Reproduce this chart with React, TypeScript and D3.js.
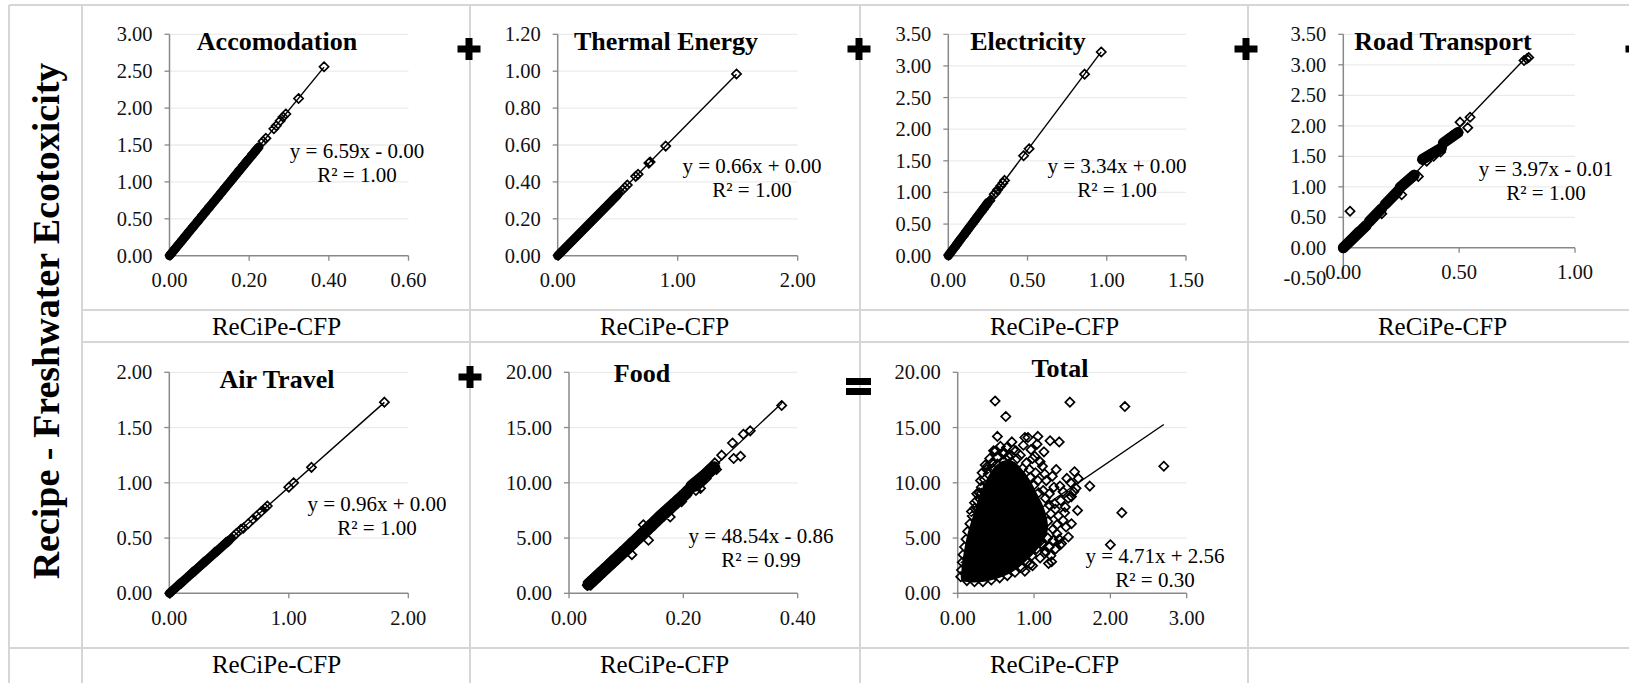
import React from 'react';
import * as d3 from 'd3';

type Pt = [number, number];

// ---- data (x = ReCiPe-CFP, y = Recipe freshwater ecotoxicity) ----

const accomPoints: Pt[] = [
  [0.002, 0.01], [0.006, 0.04], [0.011, 0.07], [0.015, 0.10], [0.020, 0.13], [0.024, 0.16],
  [0.029, 0.19], [0.033, 0.22], [0.038, 0.25], [0.042, 0.28], [0.047, 0.31], [0.051, 0.34],
  [0.056, 0.37], [0.060, 0.40], [0.065, 0.43], [0.069, 0.45], [0.074, 0.49], [0.078, 0.51],
  [0.083, 0.55], [0.087, 0.57], [0.092, 0.61], [0.096, 0.63], [0.101, 0.67], [0.105, 0.69],
  [0.110, 0.72], [0.114, 0.75], [0.119, 0.78], [0.123, 0.81], [0.128, 0.84], [0.132, 0.87],
  [0.137, 0.90], [0.141, 0.93], [0.146, 0.96], [0.150, 0.99], [0.155, 1.02], [0.159, 1.05],
  [0.164, 1.08], [0.168, 1.11], [0.173, 1.14], [0.177, 1.17], [0.182, 1.20], [0.186, 1.23],
  [0.191, 1.26], [0.195, 1.29], [0.200, 1.32], [0.204, 1.34], [0.209, 1.38], [0.213, 1.40],
  [0.218, 1.44], [0.222, 1.46], [0.235, 1.55], [0.242, 1.59], [0.262, 1.72], [0.268, 1.76],
  [0.278, 1.83], [0.285, 1.88], [0.292, 1.92], [0.324, 2.13], [0.388, 2.56],
];
// stretches where the markers overlap into a solid band
const accomDense: Pt[][] = [[[0.0, 0.0], [0.224, 1.47]]];

const thermalPoints: Pt[] = [
  [0.005, 0.003], [0.022, 0.015], [0.040, 0.026], [0.057, 0.038], [0.075, 0.050], [0.092, 0.061],
  [0.110, 0.072], [0.127, 0.084], [0.145, 0.096], [0.162, 0.107], [0.180, 0.119], [0.197, 0.130],
  [0.215, 0.142], [0.232, 0.153], [0.250, 0.165], [0.267, 0.176], [0.285, 0.188], [0.302, 0.199],
  [0.320, 0.211], [0.337, 0.222], [0.355, 0.234], [0.372, 0.245], [0.390, 0.257], [0.407, 0.269],
  [0.425, 0.280], [0.442, 0.292], [0.460, 0.303], [0.477, 0.315], [0.495, 0.327], [0.510, 0.337],
  [0.540, 0.356], [0.560, 0.370], [0.580, 0.383], [0.650, 0.430], [0.670, 0.441], [0.760, 0.502],
  [0.770, 0.508], [0.900, 0.594], [1.490, 0.985],
];
const thermalDense: Pt[][] = [[[0.0, 0.0], [0.50, 0.33]]];

const elecPoints: Pt[] = [
  [0.003, 0.01], [0.014, 0.05], [0.026, 0.09], [0.037, 0.12], [0.049, 0.16], [0.060, 0.20],
  [0.071, 0.24], [0.083, 0.28], [0.094, 0.31], [0.106, 0.35], [0.117, 0.39], [0.128, 0.43],
  [0.140, 0.47], [0.151, 0.50], [0.163, 0.54], [0.174, 0.58], [0.185, 0.62], [0.197, 0.66],
  [0.208, 0.69], [0.220, 0.73], [0.231, 0.77], [0.243, 0.81], [0.254, 0.85], [0.262, 0.87],
  [0.290, 0.97], [0.300, 1.00], [0.310, 1.04], [0.330, 1.10], [0.345, 1.15], [0.355, 1.19],
  [0.475, 1.58], [0.510, 1.69], [0.860, 2.87], [0.965, 3.22],
];
const elecDense: Pt[][] = [[[0.0, 0.0], [0.25, 0.84]]];

const roadPoints: Pt[] = [
  [0.002, 0.00], [0.011, 0.03], [0.020, 0.07], [0.029, 0.10], [0.038, 0.14], [0.047, 0.17],
  [0.056, 0.21], [0.065, 0.25], [0.074, 0.28], [0.083, 0.32], [0.092, 0.35], [0.100, 0.38],
  [0.015, 0.08], [0.035, 0.16], [0.055, 0.24], [0.075, 0.30], [0.095, 0.33],
  [0.112, 0.43], [0.121, 0.47], [0.130, 0.50], [0.139, 0.54], [0.148, 0.57], [0.157, 0.61], [0.165, 0.64],
  [0.180, 0.71], [0.189, 0.74], [0.198, 0.77], [0.207, 0.81], [0.216, 0.84], [0.225, 0.88], [0.234, 0.92],
  [0.245, 0.99], [0.254, 1.01], [0.263, 1.04], [0.272, 1.07], [0.281, 1.10], [0.290, 1.13], [0.299, 1.16], [0.306, 1.19],
  [0.342, 1.44], [0.351, 1.47], [0.360, 1.49], [0.369, 1.52], [0.378, 1.54], [0.387, 1.56], [0.396, 1.58],
  [0.405, 1.60], [0.414, 1.62], [0.423, 1.64], [0.360, 1.42], [0.390, 1.50], [0.420, 1.57],
  [0.432, 1.72], [0.441, 1.75], [0.450, 1.78], [0.459, 1.80], [0.468, 1.83], [0.477, 1.85], [0.486, 1.87], [0.495, 1.89],
  [0.029, 0.60], [0.166, 0.56], [0.252, 0.87], [0.324, 1.17], [0.504, 2.06], [0.547, 2.14],
  [0.537, 1.97], [0.780, 3.07], [0.792, 3.10], [0.800, 3.12],
];
const roadDense: Pt[][] = [
  [[0.0, 0.0], [0.10, 0.37]],
  [[0.112, 0.43], [0.165, 0.64]],
  [[0.180, 0.71], [0.234, 0.92]],
  [[0.245, 0.99], [0.306, 1.19]],
  [[0.342, 1.45], [0.423, 1.63]],
  [[0.432, 1.72], [0.495, 1.89]],
];

const airPoints: Pt[] = [
  [0.005, 0.00], [0.024, 0.02], [0.043, 0.04], [0.062, 0.06], [0.080, 0.08], [0.099, 0.09],
  [0.118, 0.11], [0.137, 0.13], [0.155, 0.15], [0.174, 0.17], [0.193, 0.19], [0.212, 0.20],
  [0.230, 0.22], [0.249, 0.24], [0.268, 0.26], [0.287, 0.28], [0.305, 0.29], [0.324, 0.31],
  [0.343, 0.33], [0.362, 0.35], [0.380, 0.37], [0.399, 0.38], [0.418, 0.40], [0.437, 0.42],
  [0.455, 0.44], [0.474, 0.46], [0.493, 0.47], [0.512, 0.49], [0.540, 0.52], [0.560, 0.54],
  [0.600, 0.58], [0.620, 0.59], [0.660, 0.63], [0.700, 0.67], [0.730, 0.70], [0.770, 0.74],
  [0.800, 0.77], [0.820, 0.79], [1.000, 0.96], [1.040, 1.00], [1.190, 1.14], [1.800, 1.73],
];
const airDense: Pt[][] = [[[0.0, 0.0], [0.50, 0.48]]];

const foodPoints: Pt[] = [
  [0.032, 0.72], [0.034, 1.04], [0.042, 1.43], [0.050, 1.82], [0.058, 2.20], [0.066, 2.59],
  [0.074, 2.98], [0.082, 3.37], [0.090, 3.76], [0.098, 4.15], [0.106, 4.54], [0.114, 4.92],
  [0.122, 5.31], [0.130, 5.70], [0.138, 6.09], [0.146, 6.48], [0.154, 6.87], [0.162, 7.25],
  [0.170, 7.64], [0.178, 8.03], [0.186, 8.42], [0.194, 8.81], [0.202, 9.20],
  [0.038, 0.73], [0.046, 1.12], [0.054, 1.51], [0.062, 1.90], [0.070, 2.29], [0.078, 2.68],
  [0.086, 3.06], [0.094, 3.45], [0.102, 3.84], [0.110, 4.23], [0.118, 4.62], [0.126, 5.01],
  [0.134, 5.39], [0.142, 5.78], [0.150, 6.17], [0.158, 6.56], [0.166, 6.95], [0.174, 7.34],
  [0.182, 7.72], [0.190, 8.11], [0.198, 8.50], [0.206, 8.89],
  [0.210, 9.6], [0.214, 9.4], [0.218, 10.0], [0.222, 9.7], [0.226, 10.3], [0.229, 9.9],
  [0.232, 10.6], [0.234, 10.1], [0.238, 10.9], [0.240, 10.4], [0.243, 11.2], [0.246, 10.8],
  [0.249, 11.5], [0.252, 11.1], [0.255, 11.8], [0.258, 11.2], [0.222, 9.3], [0.230, 9.5],
  [0.110, 3.5], [0.139, 4.8], [0.130, 6.2], [0.177, 6.9], [0.197, 8.3], [0.267, 12.5],
  [0.286, 13.6], [0.288, 12.2], [0.300, 12.4], [0.305, 14.4], [0.317, 14.7], [0.372, 17.0],
];
const foodDense: Pt[][] = [
  [[0.034, 0.8], [0.10, 3.95], [0.16, 7.0], [0.206, 9.1]],
  [[0.214, 9.7], [0.254, 11.4]],
];

// solid black core of the Total cloud (thousands of overlapping markers)
const totalDenseOutline: Pt[] = [
  [0.05, 1.2], [0.15, 1.0], [0.35, 1.05], [0.55, 1.4], [0.73, 2.0], [0.88, 2.8], [1.01, 3.7],
  [1.12, 4.7], [1.18, 5.7], [1.17, 6.8], [1.12, 7.9], [1.04, 9.0], [0.96, 10.1], [0.86, 11.1],
  [0.74, 11.9], [0.60, 12.0], [0.49, 11.5], [0.40, 10.6], [0.32, 9.5], [0.26, 8.3], [0.20, 7.0],
  [0.14, 5.7], [0.10, 4.5], [0.07, 3.3], [0.05, 2.2],
];

const totalPoints: Pt[] = [
  [0.04, 1.5], [0.05, 2.1], [0.06, 2.8], [0.07, 3.5], [0.09, 4.2], [0.11, 4.9], [0.13, 5.6],
  [0.16, 6.3], [0.19, 7.0], [0.22, 7.7], [0.25, 8.4], [0.28, 9.1], [0.31, 9.6], [0.35, 10.3],
  [0.40, 10.8], [0.46, 11.3], [0.52, 11.7], [0.60, 11.9], [0.67, 11.7], [0.74, 11.3], [0.81, 10.8],
  [0.87, 10.2], [0.92, 9.6], [0.96, 8.9], [1.01, 8.2], [1.05, 7.5], [1.09, 6.8], [1.12, 6.1],
  [1.11, 5.4], [1.08, 4.7], [1.03, 4.0], [0.97, 3.4], [0.91, 2.8], [0.84, 2.3], [0.75, 1.9],
  [0.65, 1.6], [0.55, 1.4], [0.44, 1.2], [0.33, 1.05], [0.22, 1.05], [0.12, 1.15],
  [1.18, 6.5], [1.22, 7.2], [1.20, 8.0], [1.15, 8.6], [1.25, 5.8], [1.18, 5.0], [1.30, 6.2],
  [1.28, 7.6], [1.06, 9.1], [1.00, 9.8], [1.12, 9.3], [0.95, 10.5], [1.05, 10.2], [1.20, 9.0],
  [0.85, 11.3], [0.90, 11.8], [0.78, 12.2], [0.70, 12.5], [0.60, 12.6], [0.52, 12.3], [0.45, 11.8],
  [0.38, 11.2], [0.30, 10.2], [0.25, 9.0], [1.15, 3.8], [1.20, 4.2], [1.08, 3.2], [0.98, 2.5],
  [0.88, 2.0], [1.25, 4.8],
  [0.36, 11.6], [0.42, 12.2], [0.50, 12.9], [0.56, 13.3], [0.64, 13.2], [0.66, 12.4], [0.76, 12.9],
  [0.82, 12.5], [0.86, 13.4], [0.96, 13.0], [0.98, 12.2], [1.08, 11.9], [0.94, 11.2], [1.02, 10.9],
  [1.16, 10.2], [1.24, 10.6], [1.26, 9.6], [1.38, 9.2], [1.45, 8.6], [1.35, 8.4], [1.38, 6.6],
  [1.42, 6.0], [1.30, 5.4], [1.33, 4.9], [1.22, 3.4], [1.28, 4.0], [1.40, 7.3], [1.52, 9.2],
  [1.48, 10.0], [0.32, 10.9], [0.34, 8.5], [0.22, 8.2], [0.18, 7.4],
  [0.49, 17.4], [0.63, 16.0], [1.47, 17.3], [2.19, 16.9], [2.70, 11.5], [2.15, 7.3], [2.00, 4.4],
  [1.73, 9.7], [0.52, 14.2], [0.71, 13.7], [0.88, 14.1], [0.92, 14.1], [1.05, 14.2], [1.04, 13.5],
  [1.21, 13.8], [1.33, 13.7], [0.47, 12.9], [0.60, 12.8], [0.73, 13.0], [1.13, 12.8], [0.39, 11.5],
  [1.01, 12.4], [1.11, 11.5], [1.14, 10.8], [1.29, 11.2], [1.53, 11.0], [1.58, 10.4], [1.55, 9.5],
  [1.43, 10.4], [1.34, 9.7], [0.31, 9.05], [0.40, 9.7], [0.27, 7.7], [1.49, 8.75], [1.57, 7.5],
  [1.49, 6.3], [1.36, 4.5], [1.45, 5.1], [1.23, 2.86], [0.95, 2.6], [1.14, 3.6], [1.10, 4.5],
  [1.32, 7.0], [1.41, 7.8], [1.27, 8.1], [1.19, 2.7], [1.34, 4.37],
];

const titles = ['Accomodation', 'Thermal Energy', 'Electricity', 'Road Transport', 'Air Travel', 'Food', 'Total'];
const fitSlopes = [6.59, 0.66, 3.34, 3.97, 0.96, 48.54, 4.71];
const fitIntercepts = [-0.002, 0.0, 0.0, -0.01, 0.0, -0.86, 2.56];
const fitR2 = [1.0, 1.0, 1.0, 1.0, 1.0, 0.99, 0.3];

const accomXTicks = [0, 0.2, 0.4, 0.6];
const accomYTicks = [0, 0.5, 1, 1.5, 2, 2.5, 3];
const thermalXTicks = [0, 1, 2];
const thermalYTicks = [0, 0.2, 0.4, 0.6, 0.8, 1, 1.2];
const elecXTicks = [0, 0.5, 1, 1.5];
const elecYTicks = [0, 0.5, 1, 1.5, 2, 2.5, 3, 3.5];
const roadXTicks = [0, 0.5, 1];
const roadYTicks = [-0.5, 0, 0.5, 1, 1.5, 2, 2.5, 3, 3.5];
const airXTicks = [0, 1, 2];
const airYTicks = [0, 0.5, 1, 1.5, 2];
const foodXTicks = [0, 0.2, 0.4];
const foodYTicks = [0, 5, 10, 15, 20];
const totalXTicks = [0, 1, 2, 3];
const totalYTicks = [0, 5, 10, 15, 20];

const xLabel = 'ReCiPe-CFP';
const yLabel = 'Recipe - Freshwater Ecotoxicity';

// ---- layout ----
const FONT = '"Liberation Serif", "Times New Roman", serif';
const GRID = '#d6d6d6';

interface PanelCfg {
  idx: number;
  points: Pt[];
  bands?: Pt[][];
  bandWidth?: number;
  dense?: Pt[];
  xTicks: number[];
  yTicks: number[];
  left: number;
  right: number;
  top: number;
  bottom: number;
  titleX: number;
  titleY: number;
  eqX: number;
  eqY: number;
}

const panels: PanelCfg[] = [
  { idx: 0, points: accomPoints, bands: accomDense, bandWidth: 9, xTicks: accomXTicks, yTicks: accomYTicks, left: 169.5, right: 408.5, top: 34.3, bottom: 255.7, titleX: 277, titleY: 50, eqX: 357, eqY: 158 },
  { idx: 1, points: thermalPoints, bands: thermalDense, bandWidth: 9, xTicks: thermalXTicks, yTicks: thermalYTicks, left: 557.7, right: 797.7, top: 34.3, bottom: 255.7, titleX: 666, titleY: 50, eqX: 752, eqY: 173 },
  { idx: 2, points: elecPoints, bands: elecDense, bandWidth: 9, xTicks: elecXTicks, yTicks: elecYTicks, left: 948.3, right: 1186, top: 34.3, bottom: 255.7, titleX: 1028, titleY: 50, eqX: 1117, eqY: 173 },
  { idx: 3, points: roadPoints, bands: roadDense, bandWidth: 11, xTicks: roadXTicks, yTicks: roadYTicks, left: 1343.3, right: 1575, top: 34.3, bottom: 278.3, titleX: 1443, titleY: 50, eqX: 1546, eqY: 176 },
  { idx: 4, points: airPoints, bands: airDense, bandWidth: 9, xTicks: airXTicks, yTicks: airYTicks, left: 169.3, right: 408.3, top: 372.3, bottom: 593.3, titleX: 277, titleY: 388, eqX: 377, eqY: 511 },
  { idx: 5, points: foodPoints, bands: foodDense, bandWidth: 12, xTicks: foodXTicks, yTicks: foodYTicks, left: 569, right: 797.7, top: 372.3, bottom: 593.3, titleX: 642, titleY: 382, eqX: 761, eqY: 543 },
  { idx: 6, points: totalPoints, dense: totalDenseOutline, xTicks: totalXTicks, yTicks: totalYTicks, left: 957.7, right: 1186.7, top: 372.3, bottom: 593.3, titleX: 1060, titleY: 377, eqX: 1155, eqY: 563 },
];

const fmt = (v: number) => v.toFixed(2);

function Panel({ p }: { p: PanelCfg }) {
  const x = d3.scaleLinear().domain([p.xTicks[0], p.xTicks[p.xTicks.length - 1]]).range([p.left, p.right]);
  const y = d3.scaleLinear().domain([p.yTicks[0], p.yTicks[p.yTicks.length - 1]]).range([p.bottom, p.top]);
  const axisY = y(0);
  const slope = fitSlopes[p.idx];
  const icpt = fitIntercepts[p.idx];
  const ext = d3.extent(p.points, (d) => d[0]) as [number, number];
  const fit = d3.line<number>().x((v) => x(v)).y((v) => y(slope * v + icpt));
  const pathOf = d3.line<Pt>().x((d) => x(d[0])).y((d) => y(d[1]));
  const r = 4.6;
  const diamonds = p.points
    .map(([a, b]) => {
      const cx = x(a);
      const cy = y(b);
      return `M${cx},${cy - r}L${cx + r},${cy}L${cx},${cy + r}L${cx - r},${cy}Z`;
    })
    .join('');
  const densePath = p.dense
    ? d3.line<Pt>().x((d) => x(d[0])).y((d) => y(d[1])).curve(d3.curveCatmullRomClosed)(p.dense)
    : null;
  const eq = `y = ${fmt(slope)}x ${icpt < 0 ? '-' : '+'} ${fmt(Math.abs(icpt))}`;

  return (
    <g>
      {p.yTicks.filter((t) => t > 0).map((t) => (
        <line key={'g' + t} x1={p.left} x2={p.right} y1={y(t)} y2={y(t)} stroke="#ebebeb" strokeWidth={1.3} />
      ))}
      <line x1={p.left} x2={p.left} y1={p.top} y2={p.bottom} stroke="#898989" strokeWidth={1.5} />
      <line x1={p.left} x2={p.right} y1={axisY} y2={axisY} stroke="#898989" strokeWidth={1.5} />
      {p.yTicks.map((t) => (
        <g key={'y' + t}>
          <line x1={p.left - 5} x2={p.left} y1={y(t)} y2={y(t)} stroke="#898989" strokeWidth={1.3} />
          <text x={p.left - 17} y={y(t)} dy="0.34em" textAnchor="end" fontSize={20.5} fill="#111">
            {fmt(t)}
          </text>
        </g>
      ))}
      {p.xTicks.map((t) => (
        <g key={'x' + t}>
          <line x1={x(t)} x2={x(t)} y1={axisY} y2={axisY + 5} stroke="#898989" strokeWidth={1.3} />
          <text x={x(t)} y={axisY + 31.6} textAnchor="middle" fontSize={20.5} fill="#111">
            {fmt(t)}
          </text>
        </g>
      ))}
      {densePath && <path d={densePath} fill="#000" />}
      {p.bands &&
        p.bands.map((b, i) => (
          <path
            key={'b' + i}
            d={pathOf(b) || ''}
            fill="none"
            stroke="#000"
            strokeWidth={p.bandWidth}
            strokeLinecap="round"
            strokeLinejoin="round"
          />
        ))}
      <path d={diamonds} fill="none" stroke="#000" strokeWidth={1.7} />
      <path d={fit(ext) || ''} fill="none" stroke="#000" strokeWidth={1.4} />
      <text x={p.titleX} y={p.titleY} textAnchor="middle" fontSize={26} fontWeight="bold" fill="#000">
        {titles[p.idx]}
      </text>
      <text x={p.eqX} y={p.eqY} textAnchor="middle" fontSize={21} fill="#000">
        {eq}
      </text>
      <text x={p.eqX} y={p.eqY + 24} textAnchor="middle" fontSize={21} fill="#000">
        {`R² = ${fmt(fitR2[p.idx])}`}
      </text>
    </g>
  );
}

function Plus({ cx, cy }: { cx: number; cy: number }) {
  return (
    <g fill="#000">
      <rect x={cx - 11.5} y={cy - 3.5} width={23} height={7} />
      <rect x={cx - 3.5} y={cy - 11} width={7} height={22} />
    </g>
  );
}

export default function App() {
  const W = 1629;
  const H = 683;
  const colX = [82, 470, 860, 1248];
  const colW = 389;
  return (
    <svg
      width={W}
      height={H}
      style={{ position: 'absolute', left: 0, top: 0, background: '#fff' }}
      fontFamily={FONT}
    >
      {/* table */}
      <g stroke={GRID} strokeWidth={2}>
        <line x1={9} x2={W} y1={5} y2={5} />
        <line x1={9} x2={9} y1={5} y2={H} />
        {colX.map((cx) => (
          <line key={cx} x1={cx} x2={cx} y1={5} y2={H} />
        ))}
        <line x1={82} x2={W} y1={310} y2={310} />
        <line x1={82} x2={W} y1={342} y2={342} />
        <line x1={9} x2={W} y1={648} y2={648} />
      </g>

      <text
        transform="translate(59,321) rotate(-90)"
        textAnchor="middle"
        fontSize={38}
        fontWeight="bold"
        fill="#000"
      >
        {yLabel}
      </text>

      {panels.map((p) => (
        <Panel key={p.idx} p={p} />
      ))}

      {colX.map((cx) => (
        <text key={'l1' + cx} x={cx + colW / 2} y={335} textAnchor="middle" fontSize={25} fill="#000">
          {xLabel}
        </text>
      ))}
      {colX.slice(0, 3).map((cx) => (
        <text key={'l2' + cx} x={cx + colW / 2} y={673} textAnchor="middle" fontSize={25} fill="#000">
          {xLabel}
        </text>
      ))}

      <Plus cx={469} cy={49} />
      <Plus cx={859} cy={49} />
      <Plus cx={1246} cy={49} />
      <Plus cx={1637} cy={49} />
      <Plus cx={470} cy={377} />
      <g fill="#000">
        <rect x={846} y={378} width={25} height={7} />
        <rect x={846} y={388} width={25} height={7} />
      </g>
    </svg>
  );
}
